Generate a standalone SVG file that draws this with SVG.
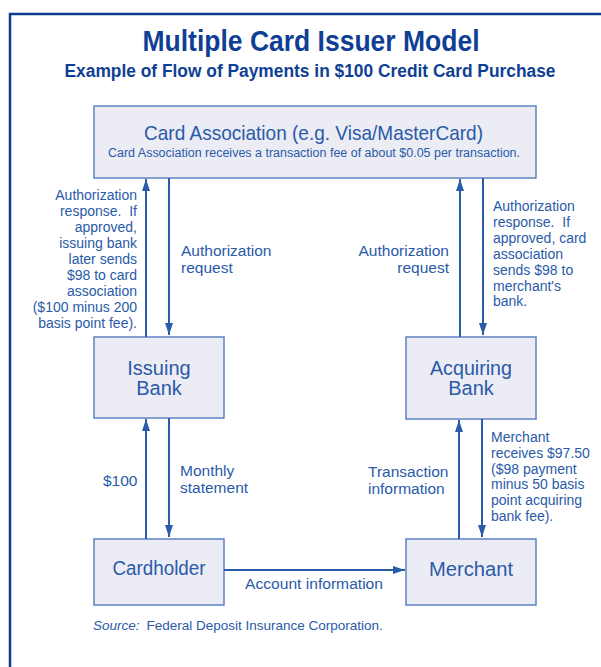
<svg xmlns="http://www.w3.org/2000/svg" width="601" height="667" viewBox="0 0 601 667">
<defs>
<style>
text{font-family:"Liberation Sans",Arial,sans-serif;fill:#2a5aa8}
.ttl{font-weight:bold;fill:#0f3f94}
.box{fill:#ececf5;stroke:#5c83c2;stroke-width:1.5}
.node{font-size:20px;text-anchor:middle}
.lbl{font-size:14px}
.mid{font-size:15.5px}
.end{text-anchor:end}
.arr{stroke:#2a5caa;stroke-width:2;fill:none;marker-end:url(#ah)}
</style>
<marker id="ah" markerUnits="userSpaceOnUse" markerWidth="13" markerHeight="9" refX="12" refY="4" orient="auto">
<path d="M0,0 L12,4 L0,8 Z" fill="#2a5caa"/>
</marker>
</defs>
<rect width="601" height="667" fill="#ffffff"/>
<rect x="10" y="14" width="620" height="700" fill="none" stroke="#0b3d91" stroke-width="2.5"/>
<g id="title">
<text class="ttl" x="311" y="51" font-size="29" text-anchor="middle" textLength="337" lengthAdjust="spacingAndGlyphs">Multiple Card Issuer Model</text>
<text class="ttl" x="310" y="77" font-size="18" text-anchor="middle" textLength="491" lengthAdjust="spacingAndGlyphs">Example of Flow of Payments in $100 Credit Card Purchase</text>
</g>
<g id="card-association">
<rect class="box" x="94" y="106" width="442" height="72"/>
<text x="313.5" y="140" font-size="21" text-anchor="middle" textLength="339" lengthAdjust="spacingAndGlyphs">Card Association (e.g. Visa/MasterCard)</text>
<text x="314" y="157" font-size="12.5" text-anchor="middle" textLength="412" lengthAdjust="spacingAndGlyphs">Card Association receives a transaction fee of about $0.05 per transaction.</text>
</g>
<g id="issuing-bank">
<rect class="box" x="94" y="337" width="130" height="81"/>
<text class="node" x="159" y="375">Issuing</text>
<text class="node" x="159" y="395">Bank</text>
</g>
<g id="acquiring-bank">
<rect class="box" x="406" y="337" width="130" height="82"/>
<text class="node" x="471" y="375" textLength="82" lengthAdjust="spacingAndGlyphs">Acquiring</text>
<text class="node" x="471" y="395">Bank</text>
</g>
<g id="cardholder">
<rect class="box" x="94" y="539" width="130" height="66"/>
<text class="node" x="159" y="575" textLength="93" lengthAdjust="spacingAndGlyphs">Cardholder</text>
</g>
<g id="merchant">
<rect class="box" x="406" y="539" width="130" height="66"/>
<text class="node" x="471" y="576" textLength="84" lengthAdjust="spacingAndGlyphs">Merchant</text>
</g>
<g id="connectors">
<line class="arr" x1="146" y1="337" x2="146" y2="179"/>
<line class="arr" x1="169" y1="178" x2="169" y2="335"/>
<line class="arr" x1="460" y1="337" x2="460" y2="179"/>
<line class="arr" x1="483" y1="178" x2="483" y2="335"/>
<line class="arr" x1="146" y1="539" x2="146" y2="419"/>
<line class="arr" x1="169" y1="418" x2="169" y2="537"/>
<line class="arr" x1="459" y1="539" x2="459" y2="420"/>
<line class="arr" x1="482" y1="419" x2="482" y2="537"/>
<line class="arr" x1="224" y1="570" x2="405" y2="570"/>
</g>
<g id="labels">
<text class="lbl end" x="137" y="200">Authorization</text>
<text class="lbl end" x="137" y="216" xml:space="preserve">response.  If</text>
<text class="lbl end" x="137" y="232">approved,</text>
<text class="lbl end" x="137" y="248">issuing bank</text>
<text class="lbl end" x="137" y="264">later sends</text>
<text class="lbl end" x="137" y="280">$98 to card</text>
<text class="lbl end" x="137" y="296">association</text>
<text class="lbl end" x="137" y="312">($100 minus 200</text>
<text class="lbl end" x="137" y="328">basis point fee).</text>
<text class="mid" x="181" y="256">Authorization</text>
<text class="mid" x="181" y="273">request</text>
<text class="mid end" x="449" y="256">Authorization</text>
<text class="mid end" x="449" y="273">request</text>
<text class="lbl" x="493" y="211">Authorization</text>
<text class="lbl" x="493" y="227" xml:space="preserve">response.  If</text>
<text class="lbl" x="493" y="243">approved, card</text>
<text class="lbl" x="493" y="259">association</text>
<text class="lbl" x="493" y="275">sends $98 to</text>
<text class="lbl" x="493" y="291">merchant's</text>
<text class="lbl" x="493" y="306">bank.</text>
<text class="mid" x="103" y="486">$100</text>
<text class="mid" x="180" y="476">Monthly</text>
<text class="mid" x="180" y="493">statement</text>
<text class="mid" x="368" y="477">Transaction</text>
<text class="mid" x="368" y="494">information</text>
<text class="lbl" x="491" y="442">Merchant</text>
<text class="lbl" x="491" y="458">receives $97.50</text>
<text class="lbl" x="491" y="474">($98 payment</text>
<text class="lbl" x="491" y="489">minus 50 basis</text>
<text class="lbl" x="491" y="505">point acquiring</text>
<text class="lbl" x="491" y="521">bank fee).</text>
<text class="mid" x="245" y="589" textLength="138" lengthAdjust="spacingAndGlyphs">Account information</text>
</g>
<g id="source">
<text x="93" y="630" font-size="13.5"><tspan font-style="italic">Source:</tspan><tspan x="146.5">Federal Deposit Insurance Corporation.</tspan></text>
</g>
</svg>
